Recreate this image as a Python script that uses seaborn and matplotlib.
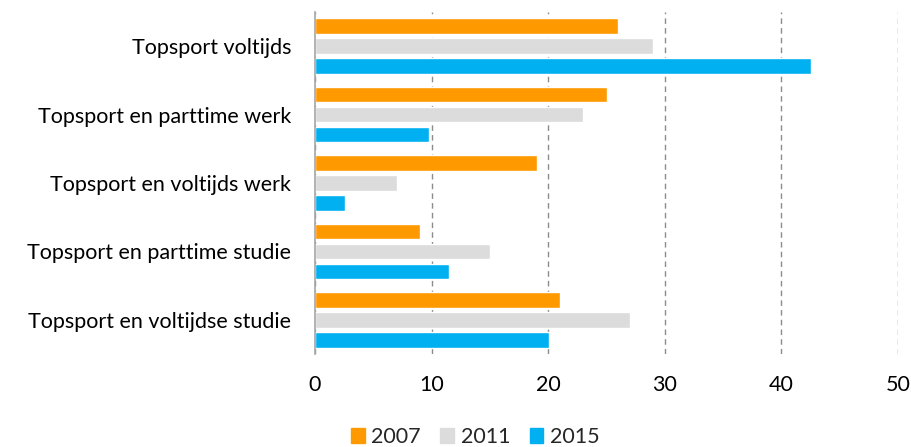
import matplotlib
matplotlib.use("Agg")
import matplotlib.pyplot as plt
import seaborn as sns
import pandas as pd

categories = [
    "Topsport voltijds",
    "Topsport en parttime werk",
    "Topsport en voltijds werk",
    "Topsport en parttime studie",
    "Topsport en voltijdse studie",
]
years = ["2007", "2011", "2015"]
values_2007 = [26, 25, 19, 9, 21]
values_2011 = [29, 23, 7, 15, 27]
values_2015 = [42.5, 9.8, 2.6, 11.5, 20.1]
x_ticks = [0, 10, 20, 30, 40, 50]
colors = ["#FF9900", "#DCDCDC", "#00B0F0"]

df = pd.DataFrame({
    "category": categories * 3,
    "year": [y for y in years for _ in categories],
    "value": values_2007 + values_2011 + values_2015,
})

sns.set_style("white")
plt.rcParams["font.family"] = ["Lato", "DejaVu Sans"]

fig = plt.figure(figsize=(9.12, 4.47), dpi=100)
ax = fig.add_axes([315 / 912, 1 - 354 / 447, 583 / 912, 342 / 447])

sns.barplot(data=df, x="value", y="category", hue="year", order=categories,
            hue_order=years, palette=colors, orient="y", width=0.88, gap=0.22,
            saturation=1, ax=ax, legend=False)

ax.set_xlim(0, 50)
ax.set_ylim(4.5, -0.5)
ax.set_xticks(x_ticks)
ax.set_xticklabels([str(t) for t in x_ticks])
ax.set_xlabel("")
ax.set_ylabel("")
ax.xaxis.grid(True, linestyle=(0, (4, 3)), color="#8C8C8C", linewidth=1)
ax.set_axisbelow(True)
for side in ["top", "right", "bottom"]:
    ax.spines[side].set_visible(False)
ax.spines["left"].set_color("#A6A6A6")
ax.spines["left"].set_linewidth(1.2)
ax.tick_params(axis="x", length=0, pad=15, labelsize=15.5, colors="#000000")
ax.tick_params(axis="y", length=0, pad=17, labelsize=15.5, colors="#000000")

handles = [plt.Rectangle((0, 0), 1, 1, color=c) for c in colors]
fig.legend(handles, years, loc="center", bbox_to_anchor=(0.521, 0.022), ncol=3,
           frameon=False, fontsize=15.5, handlelength=0.65, handleheight=0.65,
           handletextpad=0.3, columnspacing=0.9, borderpad=0)

fig.savefig("out.png", dpi=100)
